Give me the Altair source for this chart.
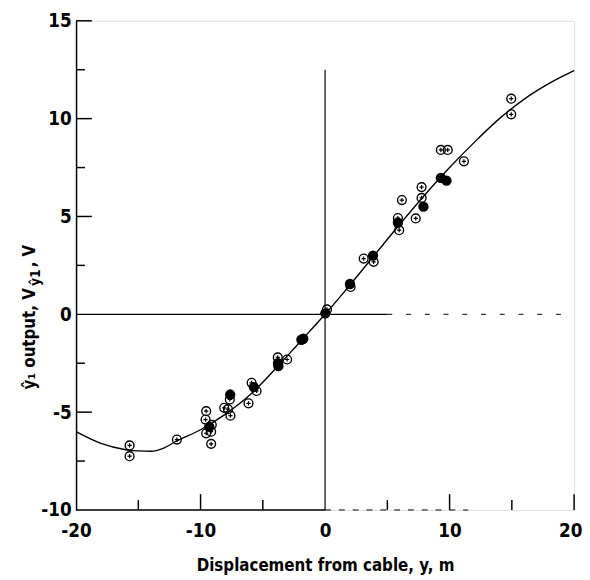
import altair as alt
import pandas as pd

# ---- data ----
curve_x = [-20, -18, -16, -15, -14, -13, -12, -10, -8, -6, -4, -2, 0, 2, 4, 6, 8, 10, 12, 14, 16, 18, 20]
curve_y = [-6.0, -6.6, -6.92, -6.98, -7.0, -6.85, -6.5, -5.9, -5.1, -4.1, -2.8, -1.4, 0.0, 1.5, 3.05, 4.6, 6.1, 7.5, 8.8, 10.0, 11.0, 11.8, 12.45]

open_x = [-15.7, -15.7, -11.9, -9.55, -9.6, -9.55, -9.1, -9.15, -9.15, -8.1, -7.65, -7.6, -7.8,
          -6.15, -5.9, -5.5, -3.8, -3.05, 0.15, 2.05, 3.1, 3.9, 5.85, 5.95, 6.17, 7.28, 7.75,
          7.75, 9.3, 9.85, 11.15, 14.95, 14.95]
open_y = [-6.7, -7.25, -6.4, -4.95, -5.38, -6.08, -5.65, -6.0, -6.62, -4.78, -4.35, -5.18, -4.85,
          -4.55, -3.5, -3.92, -2.2, -2.31, 0.25, 1.4, 2.85, 2.68, 4.92, 4.3, 5.84, 4.9, 6.5,
          5.95, 8.4, 8.4, 7.82, 11.02, 10.22]

filled_x = [-9.3, -7.62, -5.72, -3.78, -3.75, -1.9, -1.75, 0.02, 2.0, 3.85, 5.85, 7.9, 9.3, 9.75]
filled_y = [-5.75, -4.1, -3.72, -2.5, -2.65, -1.3, -1.25, 0.05, 1.55, 3.0, 4.68, 5.5, 6.97, 6.83]

x_label_values = [-20, -10, 0, 10, 20]
y_label_values = [-10, -5, 0, 5, 10, 15]
x_major_ticks = [-10, 10, 20]
x_minor_ticks = [-15, -5, 5, 15]
y_major_ticks = [15, 10, 5, -5]
y_minor_ticks = [12.5, 7.5, 2.5, -2.5, -7.5]

x_title = "Displacement from cable, y, m"
y_title_main = "ŷ₁ output, V"
y_title_sub = "ŷ1"
y_title_end = ", V"

# ---- layout ----
W, H = 505, 496
FONT = "DejaVu Sans Condensed, DejaVu Sans, sans-serif"

xs = alt.Scale(domain=[-20, 20], nice=False, zero=False)
ys = alt.Scale(domain=[-10, 15], nice=False, zero=False)

neg_expr = "datum.value < 0 ? '-' + abs(datum.value) : '' + datum.value"

curve_df = pd.DataFrame({"x": curve_x, "y": curve_y})
open_df = pd.DataFrame({"x": open_x, "y": open_y})
filled_df = pd.DataFrame({"x": filled_x, "y": filled_y})

base_axes = alt.Chart(pd.DataFrame({"x": [-20, 20], "y": [-10, 15]})).mark_point(opacity=0).encode(
    x=alt.X("x:Q", scale=xs,
            axis=alt.Axis(values=x_label_values, ticks=False, domain=False, grid=False,
                          labelFlush=False, labelOverlap=False,
                          labelAlign={"condition": {"test": "datum.value == 20", "value": "right"},
                                      "value": "center"},
                          labelOffset={"condition": {"test": "datum.value == 20", "value": 8},
                                       "value": 0},
                          labelExpr=neg_expr, labelFont=FONT, labelFontWeight="bold",
                          labelFontSize=19, labelColor="black", labelPadding=12,
                          title=x_title, titleFont=FONT, titleFontWeight="bold",
                          titleFontSize=17, titleColor="black", titlePadding=17)),
    y=alt.Y("y:Q", scale=ys,
            axis=alt.Axis(values=y_label_values, ticks=False, domain=True, domainColor="black",
                          domainWidth=1.5, grid=False, labelFlush=False, labelOverlap=False,
                          labelExpr=neg_expr, labelFont=FONT, labelFontWeight="bold",
                          labelFontSize=19, labelColor="black", labelPadding=5, title=None)),
)

# x axis line: solid to 0, broken after
xline_solid = alt.Chart(pd.DataFrame({"x": [-20], "x2": [0], "y": [-10]})).mark_rule(
    color="black", strokeWidth=1.5).encode(x=alt.X("x:Q", scale=xs), x2="x2:Q", y=alt.Y("y:Q", scale=ys))
xline_dash = alt.Chart(pd.DataFrame({"x": [0], "x2": [11.5], "y": [-10]})).mark_rule(
    color="black", strokeWidth=1, strokeDash=[6, 8]).encode(x=alt.X("x:Q", scale=xs), x2="x2:Q", y=alt.Y("y:Q", scale=ys))

# zero lines
hzero_solid = alt.Chart(pd.DataFrame({"x": [-20], "x2": [5], "y": [0]})).mark_rule(
    color="black", strokeWidth=1.2).encode(x=alt.X("x:Q", scale=xs), x2="x2:Q", y=alt.Y("y:Q", scale=ys))
hzero_dash = alt.Chart(pd.DataFrame({"x": [5], "x2": [20], "y": [0]})).mark_rule(
    color="black", strokeWidth=1, strokeDash=[5, 14]).encode(x=alt.X("x:Q", scale=xs), x2="x2:Q", y=alt.Y("y:Q", scale=ys))
vzero = alt.Chart(pd.DataFrame({"x": [0], "y": [-10], "y2": [12.5]})).mark_rule(
    color="black", strokeWidth=1.2).encode(x=alt.X("x:Q", scale=xs), y=alt.Y("y:Q", scale=ys), y2="y2:Q")

# inward ticks
ymaj = alt.Chart(pd.DataFrame({"v": y_major_ticks})).mark_rule(color="black", strokeWidth=1.5).encode(
    y=alt.Y("v:Q", scale=ys), x=alt.value(0), x2=alt.value(16))
ymin = alt.Chart(pd.DataFrame({"v": y_minor_ticks})).mark_rule(color="black", strokeWidth=1.5).encode(
    y=alt.Y("v:Q", scale=ys), x=alt.value(0), x2=alt.value(9))
xmaj = alt.Chart(pd.DataFrame({"v": x_major_ticks})).mark_rule(color="black", strokeWidth=1.5).encode(
    x=alt.X("v:Q", scale=xs), y=alt.value(H), y2=alt.value(H - 16))
xmin = alt.Chart(pd.DataFrame({"v": x_minor_ticks})).mark_rule(color="black", strokeWidth=1.5).encode(
    x=alt.X("v:Q", scale=xs), y=alt.value(H), y2=alt.value(H - 10))

curve = alt.Chart(curve_df).mark_line(color="black", strokeWidth=1.4, interpolate="monotone").encode(
    x=alt.X("x:Q", scale=xs), y=alt.Y("y:Q", scale=ys))

open_circ = alt.Chart(open_df).mark_point(shape="circle", filled=False, color="black",
                                          strokeWidth=1.4, size=80, opacity=1).encode(
    x=alt.X("x:Q", scale=xs), y=alt.Y("y:Q", scale=ys))
open_plus = alt.Chart(open_df).mark_point(shape="M -1 0 L 1 0 M 0 -1 L 0 1", filled=False, color="black",
                                          strokeWidth=1.2, size=18, opacity=1).encode(
    x=alt.X("x:Q", scale=xs), y=alt.Y("y:Q", scale=ys))
filled = alt.Chart(filled_df).mark_circle(color="black", size=110, opacity=1).encode(
    x=alt.X("x:Q", scale=xs), y=alt.Y("y:Q", scale=ys))

# y title pieces (rotated)
t1 = alt.Chart(pd.DataFrame({"t": [y_title_main]})).mark_text(
    angle=270, align="right", baseline="alphabetic", font=FONT, fontWeight="bold", fontSize=17,
    color="black").encode(text="t:N", x=alt.value(-42), y=alt.value(271))
t2 = alt.Chart(pd.DataFrame({"t": [y_title_sub]})).mark_text(
    angle=270, align="left", baseline="alphabetic", font=FONT, fontWeight="bold", fontSize=14,
    color="black").encode(text="t:N", x=alt.value(-37), y=alt.value(269))
t3 = alt.Chart(pd.DataFrame({"t": [y_title_end]})).mark_text(
    angle=270, align="left", baseline="alphabetic", font=FONT, fontWeight="bold", fontSize=17,
    color="black").encode(text="t:N", x=alt.value(-42), y=alt.value(250))

chart = alt.layer(
    base_axes, xline_solid, xline_dash, hzero_solid, hzero_dash, vzero,
    ymaj, ymin, xmaj, xmin, curve, open_circ, open_plus, filled, t1, t2, t3
).properties(
    width=W, height=H,
    autosize=alt.AutoSizeParams(type="none"),
    padding={"left": 69, "top": 9, "right": 8, "bottom": 66},
).configure_view(stroke=None).configure(background="white")

chart.save("out.html", embed_options={"renderer": "svg", "actions": False})
